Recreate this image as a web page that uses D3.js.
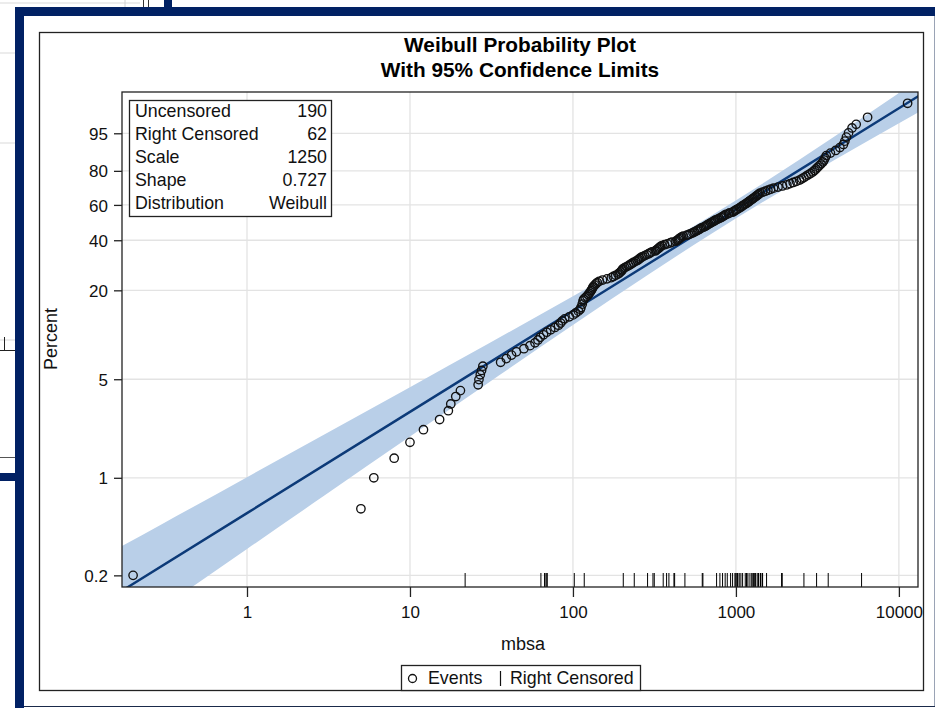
<!DOCTYPE html>
<html><head><meta charset="utf-8">
<script src="https://cdn.jsdelivr.net/npm/d3@7"></script>
<style>
html,body{margin:0;padding:0;background:#fff;}
svg{display:block;font-family:"Liberation Sans",Arial,sans-serif;}
</style></head>
<body><svg id="c" width="940" height="708"></svg>
<script>
// ---------------- data ----------------
const eventTime = [0.2,5,6,8,10,12.1,15.2,17.2,17.8,19.1,
20.4,26.2,26.5,27,27.5,28,36,39,42,45,
50,54.5,58.5,61,63,66,69,73,77.5,81.5,
84,86,89,95,100.3,104,108,111,112,114,
115.3,116.5,119,121.8,124.3,126,128,129.5,131,132.3,
133.5,136,138.5,141,145,152,162,172,177,183,
189,192.5,196,199,201,203,208,214,220,225,
230,235,242,248,253,257,262,268,276,284,
292,298,305,320,325,330,336,340,345,352,
365,380,395,405,428,436,444,450,456,465,
475,500,515,530,545,558,570,582,594,606,
615,635,648,660,672,685,698,712,726,740,
752,775,790,812,822,840,852,870,900,915,
960,970,990,1010,1030,1052,1075,1088,1111,1133,
1157,1178,1198,1218,1240,1262,1285,1308,1330,1355,
1380,1404,1458,1514,1571,1632,1702,1813,1931,2053,
2148,2247,2351,2460,2534,2614,2695,2779,2865,2959,
3033,3101,3175,3251,3334,3419,3474,3529,3585,3802,
4090,4341,4566,4660,4765,4911,5159,5470,6427,11310];
const eventPct = [0.2,0.6,1.0,1.38,1.79,2.2,2.6,3.0,3.35,3.78,
4.16,4.57,4.97,5.37,5.76,6.16,6.56,6.96,7.36,7.75,
8.15,8.55,8.95,9.35,9.75,10.15,10.56,10.97,11.37,11.78,
12.19,12.59,13.0,13.41,13.81,14.22,14.63,15.04,15.45,16.27,
17.09,17.5,17.91,18.32,18.73,19.14,19.55,19.96,20.37,20.78,
21.19,21.6,22.01,22.42,22.83,23.24,23.65,24.06,24.47,24.88,
25.29,25.7,26.11,26.52,26.93,27.34,27.75,28.16,28.57,28.99,
29.40,29.81,30.23,30.64,31.06,31.47,31.89,32.30,32.72,33.13,
33.55,33.97,34.39,34.81,35.24,35.66,36.08,36.51,36.93,37.35,
37.78,38.21,38.64,39.08,39.52,39.96,40.39,40.83,41.27,41.71,
42.15,42.59,43.03,43.48,43.92,44.36,44.80,45.24,45.68,46.13,
46.57,47.02,47.47,47.92,48.37,48.82,49.27,49.72,50.17,50.62,
51.07,51.52,51.97,52.43,52.89,53.35,53.81,54.28,54.75,55.22,
55.70,56.18,56.67,57.16,57.66,58.18,58.70,59.24,59.79,60.33,
60.87,61.4,61.95,62.5,63.05,63.6,64.15,64.72,65.3,65.9,
66.5,67.1,67.7,68.3,68.9,69.5,70.15,70.8,71.45,72.1,
72.8,73.5,74.2,74.9,75.6,76.35,77.1,77.85,78.6,79.4,
80.2,81.0,81.85,82.7,83.6,84.5,85.4,86.4,87.4,88.45,
89.5,90.6,91.7,92.8,94.0,95.1,96.2,96.9,97.98,99.27];
const censorTime = [21.8,63.6,67.0,67.3,68.6,69.6,101.9,117.3,203.6,237.8,287,309.7,315.5,358,375.5,388,
416.6,420.7,486.5,621.6,627.4,761,797.6,828,859,885,927.6,954,986,1024,1026,1048,1073,1099,
1141,1162,1164,1185,1219,1253,1256,1289,1292,1320,1351,1377,1380,1417,1420,1458,1542,1906,1924,
2614,3126,3684,5902,1000,1003,1290,1419,1455];
const fitTime = [0.17,1,10,100,1000,13500];
const fitPct  = [0.1544,0.5587,2.945,14.73,57.27,99.645];
const bandTime  = [0.17,0.3,1,3,10,30,100,300,700,1500,4000,13500];
const bandLower = [0.0737,0.1167,0.3089,0.7494,1.967,4.690,11.80,25.71,43.13,62.41,85.33,98.645];
const bandUpper = [0.3230,0.4652,1.0099,2.0418,4.400,8.779,18.33,34.46,53.36,73.61,94.08,99.939];
const xTicks = [1,10,100,1000,10000];
const yTicks = [0.2,1,5,20,40,60,80,95];
const xDomain = [0.171,13100];
const yDomainPct = [0.165,99.734];
const statLabels = ["Uncensored","Right Censored","Scale","Shape","Distribution"];
const statValues = ["190","62","1250","0.727","Weibull"];
const titleLines = ["Weibull Probability Plot","With 95% Confidence Limits"];

// --------------- drawing ---------------
const svg = d3.select("#c");
const navy = "#012164";
const L=122,R=918,T=92,B=587;
const wt = p => Math.log(-Math.log(1-p/100));
const x = d3.scaleLog().domain(xDomain).range([L,R]);
const yl = d3.scaleLinear().domain(yDomainPct.map(wt)).range([B,T]);
const y = p => yl(wt(p));

// background decorations (outside window)
const deco = svg.append("g");
[[0,3,140,3,"#d9d9d9"],[0,53,15,53,"#d9d9d9"],[0,143,15,143,"#d9d9d9"],[0,340,15,340,"#d9d9d9"],
 [125,0,125,7,"#d0d0d0"]].forEach(d=>deco.append("line").attr("x1",d[0]).attr("y1",d[1]).attr("x2",d[2]).attr("y2",d[3]).attr("stroke",d[4]));
deco.append("line").attr("x1",143.5).attr("y1",0).attr("x2",143.5).attr("y2",7).attr("stroke","#333");
deco.append("line").attr("x1",148.5).attr("y1",0).attr("x2",148.5).attr("y2",7).attr("stroke","#333");
deco.append("rect").attr("x",164).attr("y",0).attr("width",8).attr("height",8).attr("fill",navy);
deco.append("line").attr("x1",4.5).attr("y1",337).attr("x2",4.5).attr("y2",350).attr("stroke","#222");
deco.append("line").attr("x1",0).attr("y1",350.5).attr("x2",15).attr("y2",350.5).attr("stroke","#222");
deco.append("line").attr("x1",0).attr("y1",457.5).attr("x2",15).attr("y2",457.5).attr("stroke","#555");
deco.append("rect").attr("x",0).attr("y",473).attr("width",16).attr("height",8).attr("fill",navy);

// window frame
svg.append("rect").attr("x",15).attr("y",7).attr("width",920).attr("height",9).attr("fill",navy);
svg.append("rect").attr("x",15).attr("y",7).attr("width",9).attr("height",701).attr("fill",navy);
svg.append("line").attr("x1",934.5).attr("y1",16).attr("x2",934.5).attr("y2",707).attr("stroke","#9aa3b5");
svg.append("line").attr("x1",24).attr("y1",706.5).attr("x2",935).attr("y2",706.5).attr("stroke","#1a2a4a");

// inner graph frame
svg.append("rect").attr("x",39.5).attr("y",32.5).attr("width",884).attr("height",658).attr("fill","#fff").attr("stroke","#222").attr("stroke-width",1.3);

// title
svg.selectAll("text.title").data(titleLines).join("text").attr("class","title")
  .attr("x",520).attr("y",(d,i)=>52+i*25).attr("text-anchor","middle")
  .attr("font-size",20.8).attr("font-weight","bold").attr("fill","#000").text(d=>d);

// gridlines
const grid = svg.append("g").attr("stroke","#e3e3e3").attr("stroke-width",1.3);
xTicks.forEach(v=>grid.append("line").attr("x1",x(v)).attr("x2",x(v)).attr("y1",T).attr("y2",B));
yTicks.forEach(v=>grid.append("line").attr("x1",L).attr("x2",R).attr("y1",y(v)).attr("y2",y(v)));

// clip
svg.append("clipPath").attr("id","pc").append("rect").attr("x",L).attr("y",T).attr("width",R-L).attr("height",B-T);
const plot = svg.append("g").attr("clip-path","url(#pc)");

const bandData = bandTime.map((t,i)=>({t,lo:bandLower[i],hi:bandUpper[i]}));
plot.append("path").datum(bandData)
  .attr("d",d3.area().x(d=>x(d.t)).y0(d=>y(d.lo)).y1(d=>y(d.hi)).curve(d3.curveMonotoneX))
  .attr("fill","#b9cfe8");
const fitData = fitTime.map((t,i)=>({t,p:fitPct[i]}));
plot.append("path").datum(fitData)
  .attr("d",d3.line().x(d=>x(d.t)).y(d=>y(d.p)))
  .attr("fill","none").attr("stroke","#0c3a78").attr("stroke-width",2.4);

// censored ticks
plot.append("g").selectAll("line").data(censorTime).join("line")
  .attr("x1",d=>x(d)).attr("x2",d=>x(d)).attr("y1",B-14).attr("y2",B)
  .attr("stroke","#000").attr("stroke-width",1);

// events
const ev = eventTime.map((t,i)=>({t,p:eventPct[i]}));
plot.append("g").selectAll("circle").data(ev).join("circle")
  .attr("cx",d=>x(d.t)).attr("cy",d=>y(d.p)).attr("r",4.2)
  .attr("fill","none").attr("stroke","#111").attr("stroke-width",1.35);

// plot border
svg.append("rect").attr("x",L).attr("y",T).attr("width",R-L).attr("height",B-T)
  .attr("fill","none").attr("stroke","#222").attr("stroke-width",1.3);

// axes
const xAxis = svg.append("g").attr("transform",`translate(0,${B})`)
  .call(d3.axisBottom(x).tickValues(xTicks).tickFormat(d3.format("d")).tickSize(10).tickSizeOuter(0));
const yAxis = svg.append("g").attr("transform",`translate(${L},0)`)
  .call(d3.axisLeft(yl).tickValues(yTicks.map(wt)).tickFormat((d,i)=>String(yTicks[i])).tickSize(8).tickSizeOuter(0));
[xAxis,yAxis].forEach(a=>{
  a.select(".domain").remove();
  a.selectAll("line").attr("stroke","#222").attr("stroke-width",1.3);
  a.selectAll("text").attr("font-size",17).attr("fill","#111")
   .attr("font-family","'Liberation Sans',Arial,sans-serif");
});
xAxis.selectAll("text").attr("dy",0).attr("y",31);
yAxis.selectAll("text").attr("dy","0.36em").attr("x",-14);

// axis labels
svg.append("text").attr("x",523).attr("y",650).attr("text-anchor","middle").attr("font-size",18).attr("fill","#111").text("mbsa");
svg.append("text").attr("transform","translate(57,339) rotate(-90)").attr("text-anchor","middle").attr("font-size",18).attr("fill","#111").text("Percent");

// inset statistics box
const box = svg.append("g");
box.append("rect").attr("x",129.5).attr("y",100.5).attr("width",202).attr("height",116).attr("fill","#fff").attr("stroke","#222").attr("stroke-width",1.3);
statLabels.forEach((s,i)=>{
  box.append("text").attr("x",135).attr("y",117+i*23).attr("font-size",17.8).attr("fill","#111").text(s);
  box.append("text").attr("x",327).attr("y",117+i*23).attr("text-anchor","end").attr("font-size",17.8).attr("fill","#111").text(statValues[i]);
});

// legend
const lg = svg.append("g");
lg.append("rect").attr("x",401.5).attr("y",665.5).attr("width",239).attr("height",25).attr("fill","#fff").attr("stroke","#222").attr("stroke-width",1.3);
lg.append("circle").attr("cx",412.5).attr("cy",678.5).attr("r",4).attr("fill","none").attr("stroke","#111").attr("stroke-width",1.3);
lg.append("text").attr("x",428).attr("y",684).attr("font-size",17.8).attr("fill","#111").text("Events");
lg.append("line").attr("x1",500.5).attr("x2",500.5).attr("y1",671).attr("y2",686).attr("stroke","#111").attr("stroke-width",1.2);
lg.append("text").attr("x",510).attr("y",684).attr("font-size",17.8).attr("fill","#111").text("Right Censored");
</script></body></html>
